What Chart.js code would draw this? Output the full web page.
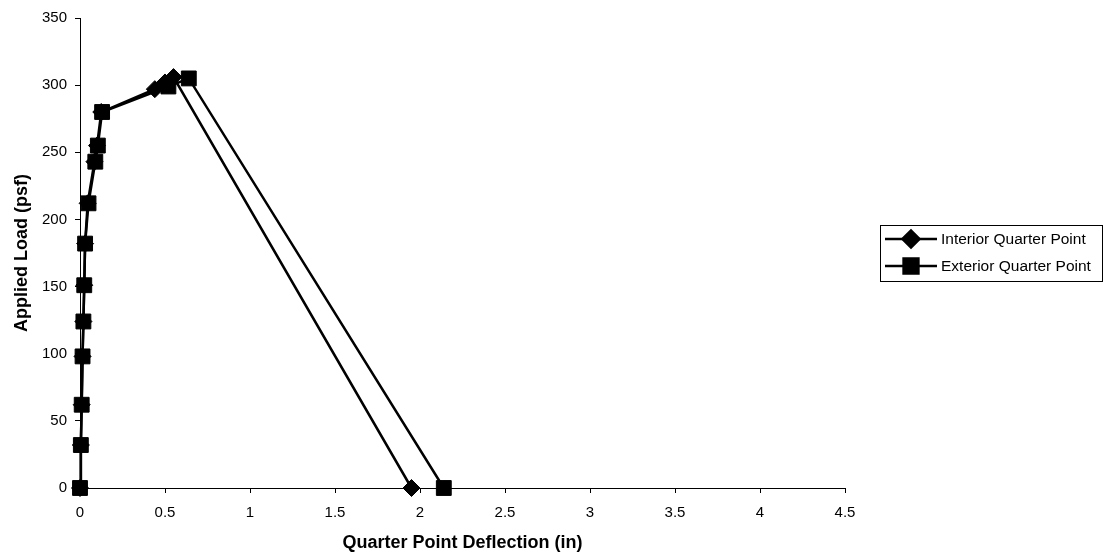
<!DOCTYPE html>
<html>
<head>
<meta charset="utf-8">
<script src="https://cdn.jsdelivr.net/npm/chart.js@4"></script>
<style>
  html, body { margin: 0; padding: 0; background: #fff; }
  #wrap { width: 1106px; height: 559px; position: relative; }
</style>
</head>
<body>
<div id="wrap"><canvas id="loadChart"></canvas></div>
<script>
// deflection (in) vs applied load (psf)
var interiorX = [0, 0.005, 0.01, 0.015, 0.02, 0.025, 0.03, 0.045, 0.085, 0.1, 0.125, 0.44, 0.5, 0.55, 1.95];
var interiorY = [0, 32, 62, 98, 124, 151, 182, 212, 243, 255, 280, 297, 302, 306, 0];

var exteriorX = [0, 0.005, 0.01, 0.015, 0.02, 0.025, 0.03, 0.05, 0.09, 0.105, 0.13, 0.52, 0.64, 2.14];
var exteriorY = [0, 32, 62, 98, 124, 151, 182, 212, 243, 255, 280, 299, 305, 0];

var seriesNames = ["Interior Quarter Point", "Exterior Quarter Point"];

function pairs(xs, ys) {
    var out = [];
    for (var i = 0; i < xs.length; i++) {
        out.push({ x: xs[i], y: ys[i] });
    }
    return out;
}

var FONT = "'Liberation Sans', Arial, sans-serif";

// excel-ish legend: line with marker in the middle, boxed
var boxLegend = {
    id: 'boxLegend',
    afterDraw: function(chart) {
        var ctx = chart.ctx;
        var x = 880, y = 225, w = 222, h = 56;
        ctx.save();
        ctx.strokeStyle = '#000';
        ctx.lineWidth = 1;
        ctx.strokeRect(x + 0.5, y + 0.5, w, h);
        ctx.font = '15.5px ' + FONT;
        ctx.textBaseline = 'middle';
        ctx.fillStyle = '#000';
        chart.data.datasets.forEach(function(ds, i) {
            var ry = y + 14 + i * 27;
            ctx.beginPath();
            ctx.lineWidth = 2.5;
            ctx.moveTo(x + 5, ry);
            ctx.lineTo(x + 57, ry);
            ctx.stroke();
            Chart.helpers.drawPoint(ctx, {
                pointStyle: ds.pointStyle,
                radius: ds.pointRadius,
                rotation: 0,
                borderWidth: 1
            }, x + 31, ry);
            ctx.fill();
            ctx.fillText(ds.label, x + 61, ry + 1);
        });
        ctx.restore();
    }
};

new Chart(document.getElementById('loadChart'), {
    type: 'scatter',
    data: {
        datasets: [{
            label: seriesNames[0],
            data: pairs(interiorX, interiorY),
            showLine: true,
            clip: false,
            borderColor: '#000',
            backgroundColor: '#000',
            borderWidth: 2.5,
            pointStyle: 'rectRot',
            pointRadius: 8.5,
            pointBorderWidth: 1
        }, {
            label: seriesNames[1],
            data: pairs(exteriorX, exteriorY),
            showLine: true,
            clip: false,
            borderColor: '#000',
            backgroundColor: '#000',
            borderWidth: 2.5,
            pointStyle: 'rect',
            pointRadius: 10.5,
            pointBorderWidth: 1
        }]
    },
    options: {
        responsive: true,
        maintainAspectRatio: false,
        animation: false,
        layout: { padding: { top: 18, right: 261, bottom: 0, left: 0 } },
        plugins: {
            legend: { display: false },
            tooltip: { enabled: false }
        },
        scales: {
            x: {
                type: 'linear',
                min: 0,
                max: 4.5,
                afterFit: function(scale) { scale.height = 71; },
                ticks: {
                    stepSize: 0.5,
                    color: '#000',
                    font: { family: FONT, size: 15 },
                    padding: 11,
                    callback: function(v) { return String(v); }
                },
                grid: { display: true, drawOnChartArea: false, tickLength: 5, color: '#000' },
                border: { color: '#000', width: 1 },
                title: {
                    display: true,
                    text: 'Quarter Point Deflection (in)',
                    color: '#000',
                    font: { family: FONT, size: 18, weight: 'bold' },
                    padding: { top: 0, bottom: 5 }
                }
            },
            y: {
                min: 0,
                max: 350,
                afterFit: function(scale) { scale.width = 80; },
                ticks: {
                    stepSize: 50,
                    color: '#000',
                    font: { family: FONT, size: 15 },
                    padding: 8
                },
                grid: { display: true, drawOnChartArea: false, tickLength: 5, color: '#000' },
                border: { color: '#000', width: 1 },
                title: {
                    display: true,
                    text: 'Applied Load (psf)',
                    color: '#000',
                    font: { family: FONT, size: 18, weight: 'bold' },
                    padding: { top: 11, bottom: 0 }
                }
            }
        }
    },
    plugins: [boxLegend]
});
</script>
</body>
</html>
